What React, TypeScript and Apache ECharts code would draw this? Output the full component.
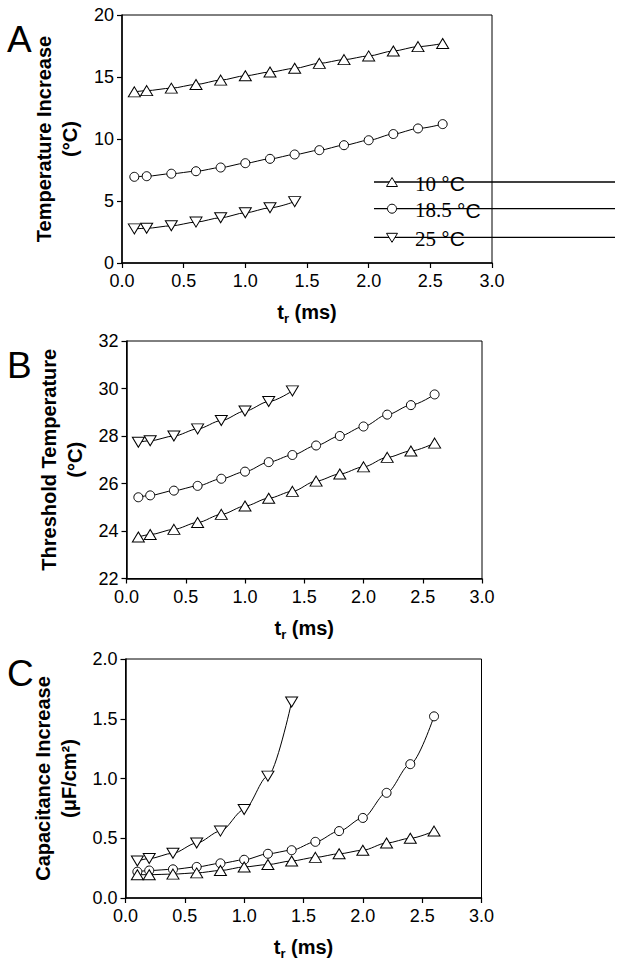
import React, { useEffect, useRef } from "react";
import * as echarts from "echarts";

// rise time (ms)
const trLong = [0.1, 0.2, 0.4, 0.6, 0.8, 1.0, 1.2, 1.4, 1.6, 1.8, 2.0, 2.2, 2.4, 2.6];
const trShort = [0.1, 0.2, 0.4, 0.6, 0.8, 1.0, 1.2, 1.4];

// panel A: temperature increase (°C)
const tempInc10 = [13.8, 13.9, 14.1, 14.4, 14.75, 15.1, 15.4, 15.7, 16.1, 16.4, 16.7, 17.1, 17.45, 17.7];
const tempInc185 = [6.95, 7.0, 7.2, 7.4, 7.7, 8.05, 8.4, 8.75, 9.1, 9.5, 9.9, 10.4, 10.85, 11.2];
const tempInc25 = [2.75, 2.8, 3.0, 3.3, 3.65, 4.05, 4.45, 4.95];

// panel B: threshold temperature (°C)
const thresh10 = [23.75, 23.85, 24.07, 24.36, 24.7, 25.05, 25.38, 25.67, 26.1, 26.4, 26.7, 27.1, 27.37, 27.7];
const thresh185 = [25.42, 25.5, 25.7, 25.9, 26.2, 26.5, 26.9, 27.2, 27.6, 28.0, 28.4, 28.9, 29.3, 29.75];
const thresh25 = [27.74, 27.8, 28.0, 28.3, 28.65, 29.05, 29.45, 29.9];

// panel C: capacitance increase (µF/cm²)
const cap10 = [0.195, 0.195, 0.2, 0.21, 0.23, 0.26, 0.28, 0.31, 0.34, 0.37, 0.4, 0.46, 0.5, 0.56];
const cap185 = [0.22, 0.23, 0.24, 0.26, 0.29, 0.32, 0.37, 0.4, 0.47, 0.56, 0.67, 0.88, 1.12, 1.52];
const cap25 = [0.31, 0.33, 0.375, 0.46, 0.56, 0.74, 1.02, 1.64];

const legendLabels = ["10", "18.5", "25"];
const panelLetters = ["A", "B", "C"];
const yTitles = [
    "Temperature Increase\n(°C)",
    "Threshold Temperature\n(°C)",
    "Capacitance Increase\n(μF/cm²)",
];
const yRanges = [
    { min: 0, max: 20, interval: 5, digits: 0 },
    { min: 22, max: 32, interval: 2, digits: 0 },
    { min: 0, max: 2, interval: 0.5, digits: 1 },
];

const SANS = "Liberation Sans";
const SERIF = "Liberation Serif";

const App: React.FC = () => {
    const chartRef = useRef<HTMLDivElement>(null);

    useEffect(() => {
        if (!chartRef.current) return;
        const chart = echarts.init(chartRef.current, undefined, { renderer: "svg" });

        const grids = [
            { left: 122, top: 15, width: 370, height: 248 },
            { left: 126.5, top: 341, width: 355.5, height: 237.5 },
            { left: 125.5, top: 659, width: 356, height: 239 },
        ];

        const markers: Record<string, any> = {
            up: { symbol: "triangle", symbolSize: [12, 10], symbolRotate: 0 },
            circle: { symbol: "circle", symbolSize: 9, symbolRotate: 0 },
            down: { symbol: "triangle", symbolSize: [12, 10], symbolRotate: 180 },
        };

        const makeSeries = (gridIdx: number, xs: number[], ys: number[], kind: string) => ({
            type: "line",
            xAxisIndex: gridIdx,
            yAxisIndex: gridIdx,
            data: xs.map((x, i) => [x, ys[i]]),
            smooth: 0.3,
            smoothMonotone: "x",
            ...markers[kind],
            showAllSymbol: true,
            lineStyle: { color: "#000", width: 1 },
            itemStyle: { color: "#fff", borderColor: "#000", borderWidth: 1 },
            z: 3,
        });

        const titleRich = {
            b: { fontFamily: SANS, fontWeight: "bold", fontSize: 20, lineHeight: 26, color: "#000" },
            s: { fontFamily: SANS, fontWeight: "bold", fontSize: 13, lineHeight: 13, verticalAlign: "bottom", color: "#000" },
        };

        const legendY = [182, 208.7, 237.3];
        const legendGraphics: any[] = [];
        legendY.forEach((y, i) => {
            legendGraphics.push({
                type: "line",
                shape: { x1: 374, y1: y, x2: 615, y2: y },
                style: { stroke: "#000", lineWidth: 1.3 },
                z: 10,
            });
            if (i === 0) {
                legendGraphics.push({
                    type: "polygon",
                    shape: { points: [[386.5, y + 4.5], [397.5, y + 4.5], [392, y - 4.5]] },
                    style: { fill: "#fff", stroke: "#000", lineWidth: 1 },
                    z: 11,
                });
            } else if (i === 1) {
                legendGraphics.push({
                    type: "circle",
                    shape: { cx: 392, cy: y, r: 4.5 },
                    style: { fill: "#fff", stroke: "#000", lineWidth: 1 },
                    z: 11,
                });
            } else {
                legendGraphics.push({
                    type: "polygon",
                    shape: { points: [[386.5, y - 4], [397.5, y - 4], [392, y + 5]] },
                    style: { fill: "#fff", stroke: "#000", lineWidth: 1 },
                    z: 11,
                });
            }
            legendGraphics.push({
                type: "text",
                x: 415,
                y: y + 1.5,
                style: {
                    text: `{n|${legendLabels[i]}} {u|°C}`,
                    fontFamily: SERIF,
                    fontSize: 21,
                    verticalAlign: "middle",
                    fill: "#000",
                    rich: {
                        n: { fontFamily: SERIF, fontSize: 21, color: "#000" },
                        u: { fontFamily: SANS, fontSize: 21, color: "#000" },
                    },
                },
                z: 12,
            });
        });

        const letterY = [39, 365, 673];
        const letterGraphics = panelLetters.map((l, i) => ({
            type: "text",
            x: 7,
            y: letterY[i],
            style: {
                text: l,
                fontFamily: SANS,
                fontSize: 37,
                verticalAlign: "middle",
                fill: "#000",
            },
        }));

        const option: any = {
            animation: false,
            grid: grids.map(g => ({ ...g, show: true, borderColor: "#000", borderWidth: 1, backgroundColor: "transparent" })),
            xAxis: grids.map((_, i) => ({
                gridIndex: i,
                type: "value",
                min: 0,
                max: 3,
                interval: 0.5,
                name: "{b|t}{s|r}{b| (ms)}",
                nameLocation: "middle",
                nameGap: 36,
                nameTextStyle: { rich: titleRich },
                axisLine: { show: true, onZero: false, lineStyle: { color: "#000", width: 1.5 } },
                axisTick: { show: true, inside: false, length: 5, lineStyle: { color: "#000", width: 1.2 } },
                axisLabel: {
                    color: "#000",
                    fontFamily: SANS,
                    fontSize: 18,
                    margin: 9,
                    formatter: (v: number) => v.toFixed(1),
                },
                splitLine: { show: false },
            })),
            yAxis: grids.map((_, i) => ({
                gridIndex: i,
                type: "value",
                min: yRanges[i].min,
                max: yRanges[i].max,
                interval: yRanges[i].interval,
                name: yTitles[i],
                nameLocation: "middle",
                nameGap: 38,
                nameTextStyle: {
                    fontFamily: SANS,
                    fontWeight: "bold",
                    fontSize: 20,
                    lineHeight: 26,
                    color: "#000",
                },
                axisLine: { show: true, onZero: false, lineStyle: { color: "#000", width: 1.5 } },
                axisTick: { show: true, inside: false, length: 5, lineStyle: { color: "#000", width: 1.2 } },
                axisLabel: {
                    color: "#000",
                    fontFamily: SANS,
                    fontSize: 18,
                    margin: 8,
                    formatter: (v: number) => v.toFixed(yRanges[i].digits),
                },
                splitLine: { show: false },
            })),
            series: [
                makeSeries(0, trLong, tempInc10, "up"),
                makeSeries(0, trLong, tempInc185, "circle"),
                makeSeries(0, trShort, tempInc25, "down"),
                makeSeries(1, trShort, thresh25, "down"),
                makeSeries(1, trLong, thresh185, "circle"),
                makeSeries(1, trLong, thresh10, "up"),
                makeSeries(2, trShort, cap25, "down"),
                makeSeries(2, trLong, cap185, "circle"),
                makeSeries(2, trLong, cap10, "up"),
            ],
            graphic: [...letterGraphics, ...legendGraphics],
        };

        chart.setOption(option);

        return () => {
            chart.dispose();
        };
    }, []);

    return (
        <div
            ref={chartRef}
            style={{ position: "absolute", left: 0, top: 0, width: 624, height: 962, background: "#fff" }}
        />
    );
};

export default App;
